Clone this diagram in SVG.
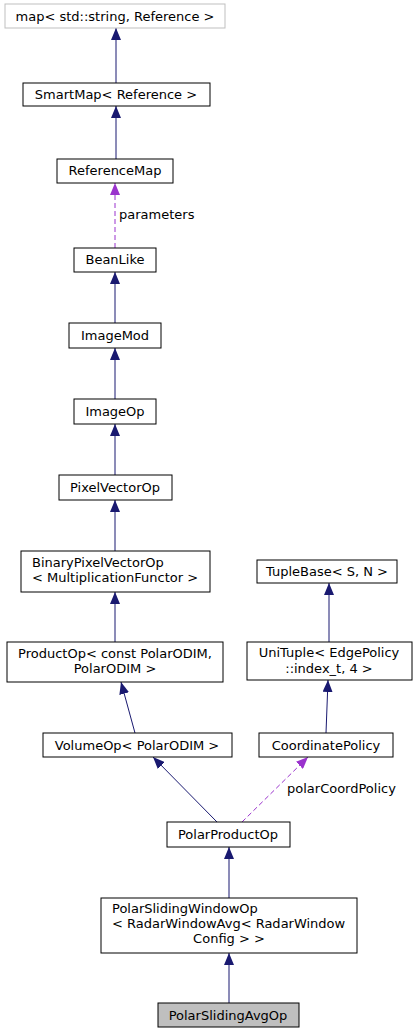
<svg xmlns="http://www.w3.org/2000/svg" width="417" height="1035" viewBox="0 0 417 1035">
<style>
.n rect{fill:#ffffff;stroke:#000000;stroke-width:1}
.n.g rect{stroke:#bfbfbf}
.n.cur rect{fill:#bfbfbf;stroke:#000000}
text{font-family:"DejaVu Sans","Liberation Sans",sans-serif;font-size:13px;fill:#000000}
.c{text-anchor:middle}
.e{fill:none;stroke:#191970;stroke-width:1}
.d{fill:none;stroke:#9a32cd;stroke-width:1;stroke-dasharray:5,3}
</style>
<defs>
<marker id="ab" viewBox="0 0 12 10" refX="12" refY="5" markerWidth="12" markerHeight="10" markerUnits="userSpaceOnUse" orient="auto">
<path d="M0,0 L12,5 L0,10 z" fill="#191970"/>
</marker>
<marker id="ap" viewBox="0 0 12 10" refX="12" refY="5" markerWidth="12" markerHeight="10" markerUnits="userSpaceOnUse" orient="auto">
<path d="M0,0 L12,5 L0,10 z" fill="#9a32cd"/>
</marker>
</defs>
<rect width="417" height="1035" fill="#ffffff"/>
<g id="edges">
<path class="e" d="M116,83 L116,28" marker-end="url(#ab)"/>
<path class="e" d="M116,160 L116,106" marker-end="url(#ab)"/>
<path class="d" d="M115,248 L115,183" marker-end="url(#ap)"/>
<text x="119" y="219">parameters</text>
<path class="e" d="M115,323 L115,272" marker-end="url(#ab)"/>
<path class="e" d="M115,399 L115,348" marker-end="url(#ab)"/>
<path class="e" d="M115,475 L115,424" marker-end="url(#ab)"/>
<path class="e" d="M115,551 L115,500" marker-end="url(#ab)"/>
<path class="e" d="M115,642 L115,592" marker-end="url(#ab)"/>
<path class="e" d="M135,733 L121,682" marker-end="url(#ab)"/>
<path class="e" d="M329,642 L329,583" marker-end="url(#ab)"/>
<path class="e" d="M326,733 L328,680" marker-end="url(#ab)"/>
<path class="e" d="M217,822 L153,757" marker-end="url(#ab)"/>
<path class="d" d="M242,822 L308,757" marker-end="url(#ap)"/>
<text x="287" y="793">polarCoordPolicy</text>
<path class="e" d="M229,898 L229,847" marker-end="url(#ab)"/>
<path class="e" d="M229,1003 L229,953" marker-end="url(#ab)"/>
</g>
<g id="node_map" class="n g"><rect x="5" y="4" width="220" height="24"/><text class="c" x="115" y="21">map&lt; std::string, Reference &gt;</text></g>
<g id="node_smartmap" class="n"><rect x="23" y="83" width="187" height="23"/><text class="c" x="116" y="99">SmartMap&lt; Reference &gt;</text></g>
<g id="node_referencemap" class="n"><rect x="57" y="159" width="116" height="24"/><text class="c" x="115" y="175">ReferenceMap</text></g>
<g id="node_beanlike" class="n"><rect x="74" y="248" width="82" height="24"/><text class="c" x="115" y="264">BeanLike</text></g>
<g id="node_imagemod" class="n"><rect x="69" y="323" width="92" height="25"/><text class="c" x="115" y="340">ImageMod</text></g>
<g id="node_imageop" class="n"><rect x="74" y="399" width="82" height="25"/><text class="c" x="115" y="416">ImageOp</text></g>
<g id="node_pixelvectorop" class="n"><rect x="59" y="475" width="113" height="25"/><text class="c" x="115" y="492">PixelVectorOp</text></g>
<g id="node_binarypixelvectorop" class="n"><rect x="21" y="551" width="189" height="41"/><text x="32" y="567">BinaryPixelVectorOp</text><text x="32" y="582">&lt; MultiplicationFunctor &gt;</text></g>
<g id="node_productop" class="n"><rect x="7" y="642" width="216" height="40"/><text class="c" x="115" y="658">ProductOp&lt; const PolarODIM,</text><text class="c" x="115" y="673">PolarODIM &gt;</text></g>
<g id="node_volumeop" class="n"><rect x="43" y="733" width="189" height="24"/><text class="c" x="137" y="750">VolumeOp&lt; PolarODIM &gt;</text></g>
<g id="node_tuplebase" class="n"><rect x="257" y="560" width="140" height="23"/><text class="c" x="327" y="576">TupleBase&lt; S, N &gt;</text></g>
<g id="node_unituple" class="n"><rect x="247" y="642" width="165" height="38"/><text class="c" x="329" y="657">UniTuple&lt; EdgePolicy</text><text class="c" x="329" y="673">::index_t, 4 &gt;</text></g>
<g id="node_coordinatepolicy" class="n"><rect x="259" y="733" width="134" height="24"/><text class="c" x="326" y="750">CoordinatePolicy</text></g>
<g id="node_polarproductop" class="n"><rect x="167" y="822" width="123" height="25"/><text class="c" x="228" y="839">PolarProductOp</text></g>
<g id="node_polarslidingwindowop" class="n"><rect x="101" y="898" width="256" height="55"/><text x="112" y="913">PolarSlidingWindowOp</text><text x="112" y="928">&lt; RadarWindowAvg&lt; RadarWindow</text><text class="c" x="229" y="943">Config &gt; &gt;</text></g>
<g id="node_polarslidingavgop" class="n cur"><rect x="158" y="1003" width="141" height="24"/><text class="c" x="228" y="1020">PolarSlidingAvgOp</text></g>
</svg>
